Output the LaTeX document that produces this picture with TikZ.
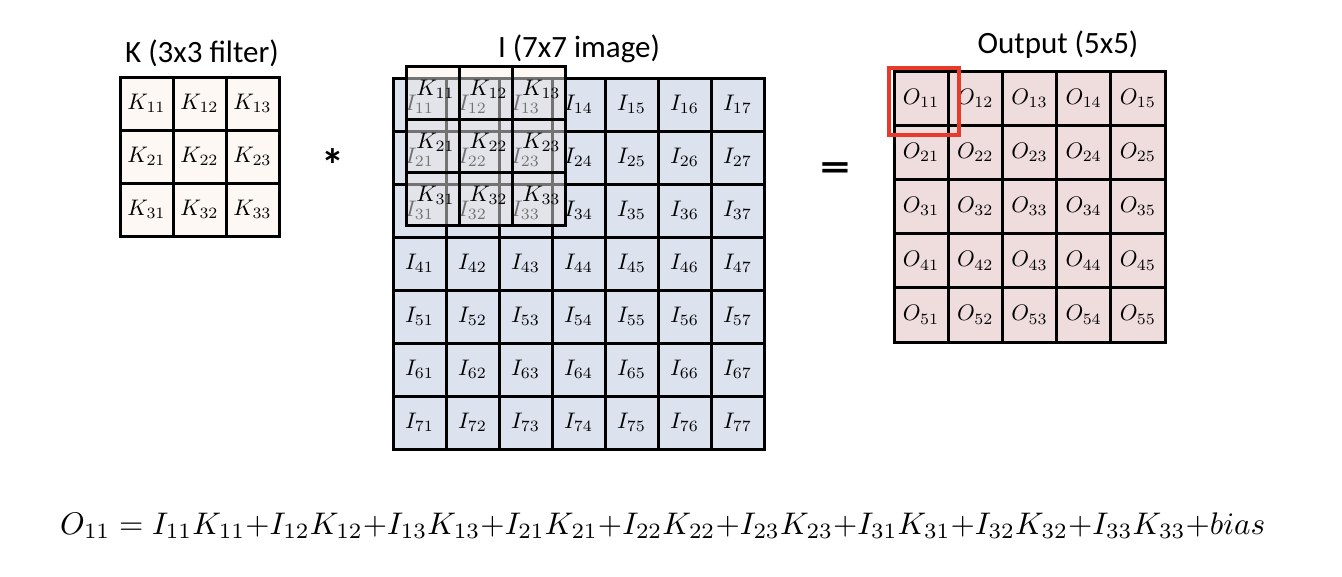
\documentclass[tikz,border=0pt]{standalone}
\usepackage{fontspec}
\usepackage{graphicx}
\newfontfamily\calib{Carlito}
\newcommand\cellmath[1]{\scalebox{2.25}{$#1$}}
\definecolor{kfill}{RGB}{253,248,243}
\definecolor{ifill}{RGB}{220,227,239}
\definecolor{ofill}{RGB}{239,221,221}
\definecolor{ovfill}{RGB}{232,230,230}
\definecolor{redbox}{RGB}{232,58,42}
\begin{document}
\begin{tikzpicture}[x=1pt,y=-1pt,
  cell/.style={draw=black, line width=3pt, minimum size=#1, inner sep=0pt, anchor=center},
  title/.style={anchor=base, inner sep=0pt, font=\calib\fontsize{31}{34}\selectfont},
  lbl/.style={inner sep=0pt, anchor=center}]
\useasboundingbox (0,0) rectangle (1342,576);
% K filter
\fill[kfill] (120,77) rectangle (279,236);
\foreach \r in {1,2,3}
  \foreach \c in {1,2,3}
    \node[cell=53pt] (k\r\c) at ({120+53*(\c-0.5)},{77+53*(\r-0.5)}) {\cellmath{K_{\r\c}}};
\node[title] (kt) at (202,62) {K (3x3 filter)};
% star
\node[inner sep=0pt, anchor=center, font=\calib\bfseries\fontsize{46}{48}\selectfont] (star) at (333,165) {*};
% I image
\fill[ifill] (393,77) rectangle (764,448);
\foreach \r in {1,...,7}
  \foreach \c in {1,...,7}
    \node[cell=53pt] (i\r\c) at ({393+53*(\c-0.5)},{77+53*(\r-0.5)+1}) {\cellmath{I_{\r\c}}};
\node[title] (it) at (579,57) {I (7x7 image)};
% overlay filter
\fill[kfill] (406,66) rectangle (565,77);
\fill[ovfill, opacity=0.5] (406,77) rectangle (565,225);
\foreach \r in {1,2,3}
  \foreach \c in {1,2,3}
    \node[cell=53pt] (f\r\c) at ({406+53*(\c-0.5)},{66+53*(\r-0.5)}) {};
\foreach \r in {1,2,3}
  \foreach \c in {1,2,3}
    \node[lbl] (fl\r\c) at ({406+53*(\c-0.5)+3},{66+53*(\r-0.5)-3}) {\cellmath{K_{\r\c}}};
% equals
\node[inner sep=0pt, anchor=center, font=\calib\bfseries\fontsize{40}{44}\selectfont] (eq) at (835,172) {\scalebox{1.5}[1]{=}};
% output
\fill[ofill] (894,71) rectangle (1165,342);
\foreach \r in {1,...,5}
  \foreach \c in {1,...,5}
    \node[cell=54.2pt] (o\r\c) at ({894+54.2*(\c-0.5)},{71+54.2*(\r-0.5)}) {\cellmath{O_{\r\c}}};
\node[title] (ot) at (1058,53) {Output (5x5)};
\node[draw=redbox, line width=4pt, minimum width=70pt, minimum height=67pt, inner sep=0pt] (red) at (924,101.5) {};
% equation
\node[anchor=base west, inner sep=0pt] (formula) at (60,534) {\resizebox{1205pt}{!}{$O_{11} = I_{11}K_{11}{+}I_{12}K_{12}{+}I_{13}K_{13}{+}I_{21}K_{21}{+}I_{22}K_{22}{+}I_{23}K_{23}{+}I_{31}K_{31}{+}I_{32}K_{32}{+}I_{33}K_{33}{+}bias$}};
\end{tikzpicture}
\end{document}
